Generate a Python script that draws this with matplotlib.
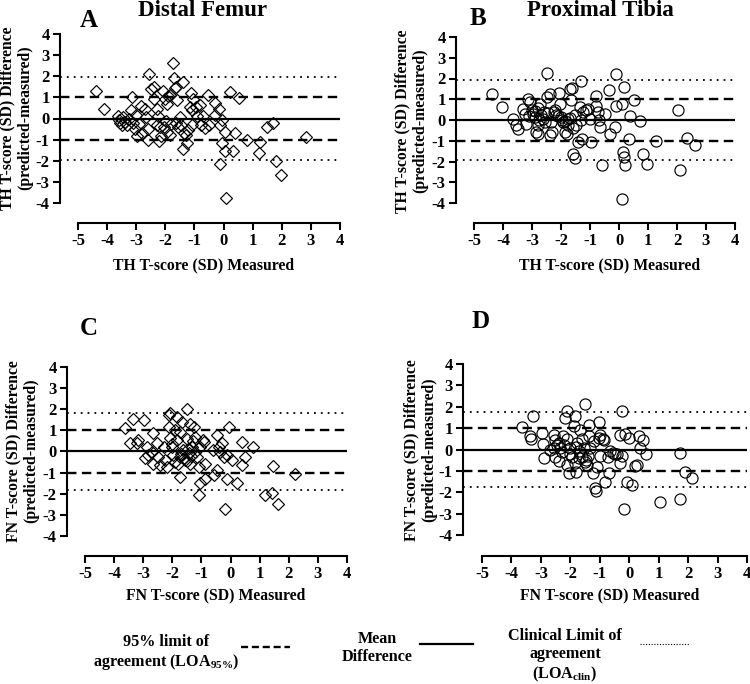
import matplotlib.pyplot as plt
from matplotlib.lines import Line2D

plt.rcParams['font.family'] = ['Liberation Serif', 'DejaVu Serif']
plt.rcParams['font.weight'] = 'bold'
plt.rcParams['axes.unicode_minus'] = False
plt.rcParams['mathtext.fontset'] = 'custom'
plt.rcParams['mathtext.rm'] = 'Liberation Serif:bold'
plt.rcParams['mathtext.it'] = 'Liberation Serif:bold'
plt.rcParams['mathtext.bf'] = 'Liberation Serif:bold'

# --- data ---
# A: distal femur, total hip T-score
femur_th_x = [-4.39, -4.10, -3.62, -3.60, -3.55, -3.50, -3.45, -3.40, -3.30, -3.25, -3.18, -3.16,
              -3.10, -3.05, -3.00, -2.98, -2.90, -2.85, -2.80, -2.70, -2.65, -2.60, -2.58, -2.55,
              -2.48, -2.40, -2.38, -2.30, -2.30, -2.25, -2.22, -2.20, -2.15, -2.08, -2.05, -2.00,
              -1.98, -1.95, -1.95, -1.90, -1.85, -1.85, -1.80, -1.75, -1.70, -1.68, -1.62, -1.60,
              -1.65, -1.58, -1.50, -1.45, -1.40, -1.38, -1.35, -1.30, -1.27, -1.22, -1.16, -1.12,
              -1.10, -1.10, -1.05, -0.95, -0.90, -0.80, -0.78, -0.70, -0.65, -0.53, -0.50, -0.30,
              -0.28, -0.15, -0.13, -0.05, 0.05, -0.07, 0.05, -0.13, 0.22, 0.33, 0.39, 0.53,
              0.10, 0.79, 1.25, 1.23, 1.48, 1.71, 1.80, 1.99, 2.82]
femur_th_y = [1.31, 0.44, 0.12, -0.05, -0.22, -0.30, 0.05, -0.15, -0.30, 0.00, 0.40, 1.00,
              -0.20, -0.50, 0.18, -0.85, -0.25, 0.60, -0.70, 0.45, 0.05, -0.50, -1.00, 2.10,
              1.40, 1.48, 0.90, 0.45, -0.30, 0.10, -1.05, -0.40, -0.85, 1.30, -0.40, 0.90,
              -0.10, 0.70, -0.65, 1.05, 1.10, -0.80, -0.25, 2.62, 1.90, 1.45, 1.50, 0.88,
              -0.20, -0.40, 0.05, -0.30, 1.72, -1.45, -0.70, -0.80, -1.16, -0.55, 0.55, 1.20,
              0.40, -0.30, 0.90, 0.55, 0.10, 0.65, -0.30, 0.10, -0.45, 1.10, -0.30, 0.75,
              0.18, 0.45, -0.30, -0.05, -0.62, -1.18, -1.55, -2.17, 1.27, -1.56, -0.68, 0.95,
              -3.78, -1.00, -1.09, -1.64, -0.38, -0.22, -2.03, -2.66, -0.88]

# B: proximal tibia, total hip T-score
tibia_th_x = [-4.37, -4.02, -3.65, -3.54, -3.48, -3.30, -3.25, -3.14, -3.08, -3.20, -3.00, -2.96,
              -2.90, -2.85, -2.80, -2.79, -2.73, -2.68, -2.62, -2.50, -2.47, -2.39, -2.39, -2.30,
              -2.33, -2.20, -2.16, -2.07, -2.05, -2.00, -1.93, -1.87, -1.81, -1.76, -1.76, -1.70,
              -1.62, -1.65, -1.58, -1.53, -1.53, -1.47, -1.41, -1.35, -1.30, -1.24, -1.26, -1.06,
              -1.00, -0.95, -0.80, -0.78, -0.72, -0.69, -0.66, -0.49, -0.57, -0.34, -0.32, -0.15,
              -0.12, -0.09, 0.09, 0.17, 0.14, 0.17, 0.20, 0.10, 0.34, 0.38, 0.52, 0.71,
              0.83, 0.98, 1.27, 2.03, 2.10, 2.35, 2.62,
              -2.90, -2.75, -2.60, -2.55, -2.45, -2.25, -2.10, -1.95, -1.85, -1.70, -1.60, -1.30,
              -1.15, -2.80, -3.10]
tibia_th_y = [1.24, 0.63, 0.03, -0.26, -0.42, 0.55, 0.30, 1.00, 0.87, -0.18, 0.47, 0.30,
              0.15, -0.58, -0.66, -0.26, 0.79, 0.22, 0.06, 1.10, 2.27, 1.27, -0.74, -0.58,
              -0.10, 0.47, 0.22, 1.30, 0.79, 0.14, -0.10, -0.58, -0.66, 0.06, -0.26, 1.51,
              1.56, 0.95, -1.62, -1.83, 0.22, -0.26, -1.06, 0.63, 1.88, 0.39, -0.90, 0.55,
              0.06, -1.06, 1.14, 0.66, 0.39, 0.02, -0.34, 0.30, -2.18, 1.46, -0.66, -0.34,
              2.20, 0.66, 0.76, 1.59, -1.54, -1.78, -2.18, -3.82, -0.90, 0.18, 0.98, -0.05,
              -1.62, -2.10, -1.03, 0.47, -2.39, -0.87, -1.22,
              0.45, 0.00, 0.40, -0.10, 0.35, 0.40, 0.20, 0.00, -0.05, 0.10, -0.40, 0.00,
              0.50, 0.60, 0.20]

# C: distal femur, femoral neck T-score
femur_fn_x = [-3.62, -3.45, -3.34, -3.22, -3.17, -2.99, -2.88, -2.94, -2.82, -2.71, -2.65, -2.65,
              -2.53, -2.48, -2.42, -2.30, -2.25, -2.19, -2.13, -2.08, -2.13, -2.08, -2.02, -1.96,
              -1.90, -1.85, -1.85, -1.79, -1.73, -1.73, -1.73, -1.68, -1.62, -1.56, -1.50, -1.50,
              -1.44, -1.39, -1.39, -1.33, -1.27, -1.21, -1.21, -1.16, -1.10, -1.04, -1.10, -1.04,
              -0.93, -0.87, -0.87, -0.58, -0.47, -0.47, -0.41, -0.36, -0.30, -0.24, -0.18, -0.13,
              -0.07, -0.13, 0.05, 0.22, 0.39, 0.39, 0.50, 0.76, 1.19, 1.42, 1.46, 1.63, 2.22,
              -1.60, -1.50, -1.45, -1.35, -1.70, -1.90, -2.00, -1.30, -0.60, -0.90]
femur_fn_y = [1.13, 0.41, 1.56, 0.38, 0.53, 1.48, 0.22, -0.33, -0.17, -0.02, 0.88, -0.57,
              0.38, -0.25, -0.65, 0.22, -0.41, -0.72, 1.72, 1.80, 1.17, 0.66, 0.22, -0.17,
              1.00, 1.64, 0.54, -0.57, -0.25, -1.20, 0.93, 1.40, 0.06, -0.41, 2.00, 0.61,
              -0.09, 1.32, -0.57, 0.22, 1.17, 0.69, -0.02, -0.25, -0.72, 0.22, -2.06, -1.51,
              0.54, -0.57, -1.28, -1.12, -0.88, 0.77, 0.22, -0.02, 0.38, -0.25, -2.74, -0.17,
              1.17, -1.28, -0.41, -1.48, 0.46, -0.65, -0.25, 0.22, -2.06, -1.95, -0.68, -2.50, -1.07,
              -0.30, -0.45, 0.10, -0.20, -0.10, -0.50, 0.35, 0.50, 0.05, 0.45]

# D: proximal tibia, femoral neck T-score
tibia_fn_x = [-3.64, -3.36, -3.34, -3.27, -2.96, -2.93, -2.89, -2.68, -2.57, -2.51, -2.51, -2.45,
              -2.40, -2.34, -2.25, -2.17, -2.11, -2.11, -2.06, -2.00, -1.94, -1.89, -1.83, -1.83,
              -1.81, -1.77, -1.72, -1.66, -1.60, -1.55, -1.49, -1.46, -1.44, -1.38, -1.35, -1.32,
              -1.23, -1.15, -1.12, -1.10, -1.04, -1.01, -0.98, -0.87, -0.81, -0.73, -0.70, -0.64,
              -0.56, -0.41, -0.32, -0.26, -0.24, -0.30, -0.17, -0.13, -0.07, -0.02, 0.11, 0.21,
              0.32, 0.36, 0.26, 0.47, 0.57, 1.06, 1.74, 1.74, 1.90, 2.12,
              -2.40, -2.30, -2.20, -2.00, -1.80, -1.70, -1.50, -1.40, -1.20, -1.00, -0.90, -0.50,
              -2.55, -2.10, -1.60]
tibia_fn_y = [1.03, 0.64, 0.48, 1.55, 0.77, 0.25, -0.38, -0.02, 0.69, 0.45, -0.33, 0.22,
              -0.56, 0.06, 0.61, 1.47, 1.78, -0.72, -1.08, 0.06, -0.33, 1.08, 1.55, -0.64,
              -1.06, 0.30, -0.09, 0.92, -0.33, 0.06, 2.12, -0.48, -0.72, 1.16, 0.61, 0.06,
              -1.11, -1.81, -1.92, -0.80, 0.53, 1.27, 0.69, 0.45, -1.50, -0.33, -1.11, -0.09,
              -0.17, -0.20, 0.69, 1.81, -0.30, -0.64, -2.78, 0.72, -1.50, 0.56, -1.66, -0.75,
              0.61, 0.09, -0.72, 0.45, -0.20, -2.44, -0.17, -2.33, -1.03, -1.31,
              0.30, -0.10, 0.20, -0.20, 0.10, -0.40, -0.60, -0.30, 0.40, -0.30, 0.50, -0.20,
              0.05, 0.50, 0.50]

loa95 = [1.0, 1.0, 1.0, 1.0]
loa_clin = [1.98, 1.95, 1.83, 1.77]

titles = ["Distal Femur", "Proximal Tibia", "", ""]
letters = ["A", "B", "C", "D"]
x_labels = ["TH T-score (SD) Measured", "TH T-score (SD) Measured",
            "FN T-score (SD) Measured", "FN T-score (SD) Measured"]
y_labels = ["TH T-score (SD) Difference\n(predicted-measured)",
            "TH T-score (SD) Difference\n(predicted-measured)",
            "FN T-score (SD) Difference\n(predicted-measured)",
            "FN T-score (SD) Difference\n(predicted-measured)"]
markers = ["D", "o", "D", "o"]

W, H = 750, 684
fig = plt.figure(figsize=(W / 100, H / 100), dpi=100)


def fx(px):
    return px / W


def fy(py):
    return 1 - py / H


# pixel layout: y-axis x, x=-5, x=4, y=4 top, y=-4 bottom, x-axis line
layout = [
    (60, 78, 340, 34, 203, 223),
    (456, 474, 735, 37, 203, 223),
    (67, 85, 347, 367, 536, 556),
    (463, 482, 747, 364, 535, 556),
]
# baseline positions for panel letters and titles
letter_pos = [(89, 27), (478, 25), (89, 335), (481, 328)]
title_pos = [(203, 16), (600, 16)]
xlabel_pos = [(204, 265), (610, 265), (216, 595), (610, 595)]
ylabel_pos = [(16, 118), (411, 121), (22, 451), (420, 450)]

data = [(femur_th_x, femur_th_y), (tibia_th_x, tibia_th_y),
        (femur_fn_x, femur_fn_y), (tibia_fn_x, tibia_fn_y)]

for i, (x0, xa, xb, yt, yb, xax) in enumerate(layout):
    ax = fig.add_axes([fx(x0), fy(yb), (xb - x0) / W, (yb - yt) / H])
    unit = (xb - xa) / 9
    ax.set_xlim(-5 - (xa - x0) / unit, 4)
    ax.set_ylim(-4, 4)

    xs, ys = data[i]
    ms = 6.3 if markers[i] == "D" else 8
    ax.plot(xs, ys, linestyle="none", marker=markers[i], ms=ms,
            mfc="none", mec="black", mew=0.85, clip_on=False, zorder=3)

    ax.axhline(0, color="black", lw=1.6)
    for s in (1, -1):
        ax.axhline(s * loa95[i], color="black", lw=1.7, linestyle=(0, (4, 2.3)))
        ax.axhline(s * loa_clin[i], color="black", lw=1.3, linestyle=(0, (1, 2.8)))

    ax.spines[["top", "right"]].set_visible(False)
    for sp in ("left", "bottom"):
        ax.spines[sp].set_linewidth(1.5)
    ax.spines["bottom"].set_position(("outward", (xax - yb) * 0.72))
    ax.spines["bottom"].set_bounds(-5, 4)
    ax.spines["left"].set_bounds(-4, 4)
    ax.set_xticks(range(-5, 5))
    ax.set_yticks(range(-4, 5))
    ax.tick_params(direction="out", length=5, width=1.5, labelsize=12, pad=2.5)
    ax.patch.set_alpha(0)

    fig.text(fx(letter_pos[i][0]), fy(letter_pos[i][1]), letters[i],
             fontsize=18, ha="center", va="baseline")
    if titles[i]:
        fig.text(fx(title_pos[i][0]), fy(title_pos[i][1]), titles[i],
                 fontsize=16.5, ha="center", va="baseline")
    fig.text(fx(xlabel_pos[i][0]), fy(xlabel_pos[i][1]), x_labels[i],
             fontsize=11.3, ha="center", va="center")
    fig.text(fx(ylabel_pos[i][0]), fy(ylabel_pos[i][1]), y_labels[i],
             fontsize=11.3, ha="center", va="center", rotation=90,
             multialignment="center", linespacing=1.15)

# --- legend at the bottom ---
leg_fs = 11.6
fig.text(fx(166), fy(653), "95% limit of\nagreement (LOA$_{95\\%}$)", fontsize=leg_fs,
         ha="center", va="center", multialignment="center", linespacing=1.2)
fig.text(fx(377), fy(648), "Mean\nDifference", fontsize=leg_fs,
         ha="center", va="center", multialignment="center", linespacing=1.2)
fig.text(fx(565), fy(656), "Clinical Limit of\nagreement\n(LOA$_{clin}$)", fontsize=leg_fs,
         ha="center", va="center", multialignment="center", linespacing=1.2)

fig.add_artist(Line2D([fx(241), fx(290)], [fy(647), fy(647)], color="black", lw=1.7,
                      linestyle=(0, (3, 1.6)), transform=fig.transFigure))
fig.add_artist(Line2D([fx(420), fx(473)], [fy(644), fy(644)], color="black", lw=1.6,
                      transform=fig.transFigure))
fig.add_artist(Line2D([fx(640), fx(690)], [fy(644), fy(644)], color="black", lw=0.8,
                      linestyle=(0, (1, 1.5)), transform=fig.transFigure))

fig.savefig("out.png", dpi=100)
